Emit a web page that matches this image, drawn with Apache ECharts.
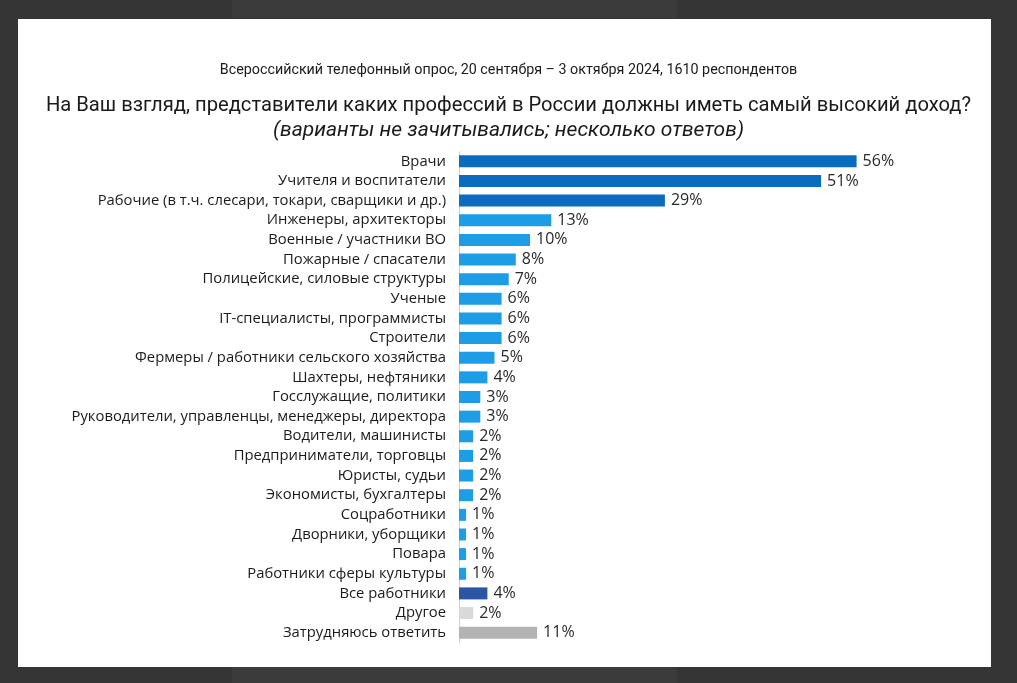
<!DOCTYPE html>
<html><head><meta charset="utf-8">
<script src="https://cdn.jsdelivr.net/npm/echarts@6/dist/echarts.min.js"></script>
<style>html,body{margin:0;padding:0;background:#353535;}#c{width:1017px;height:683px;}</style>
</head><body><div id="c"></div>
<script>
const categories = [
 "Врачи","Учителя и воспитатели","Рабочие (в т.ч. слесари, токари, сварщики и др.)",
 "Инженеры, архитекторы","Военные / участники ВО","Пожарные / спасатели",
 "Полицейские, силовые структуры","Ученые","IT-специалисты, программисты","Строители",
 "Фермеры / работники сельского хозяйства","Шахтеры, нефтяники","Госслужащие, политики",
 "Руководители, управленцы, менеджеры, директора","Водители, машинисты",
 "Предприниматели, торговцы","Юристы, судьи","Экономисты, бухгалтеры","Соцработники",
 "Дворники, уборщики","Повара","Работники сферы культуры","Все работники","Другое",
 "Затрудняюсь ответить"];
const values = [56,51,29,13,10,8,7,6,6,6,5,4,3,3,2,2,2,2,1,1,1,1,4,2,11];
const groups = ["top","top","top","l","l","l","l","l","l","l","l","l","l","l","l","l","l","l","l","l","l","l","all","other","dk"];
const palette = {top:"#0b6cbf", l:"#1c9de6", all:"#2c55a2", other:"#d9d9d9", dk:"#b3b3b3"};
const surveyNote = "Всероссийский телефонный опрос, 20 сентября – 3 октября 2024, 1610 респондентов";
const question = "На Ваш взгляд, представители каких профессий в России должны иметь самый высокий доход?";
const questionNote = "(варианты не зачитывались; несколько ответов)";

const chart = echarts.init(document.getElementById('c'), null, {renderer:'canvas'});
const narrow = '"Roboto",sans-serif';
chart.setOption({
  animation:false,
  backgroundColor:'#353535',
  graphic:[
    {type:'rect', shape:{x:232,y:0,width:445,height:18}, style:{fill:'#3b3b3b'}, z:-1},
    {type:'rect', shape:{x:232,y:667,width:445,height:16}, style:{fill:'#3b3b3b'}, z:-1},
    {type:'rect', shape:{x:18,y:19,width:973,height:648}, style:{fill:'#ffffff'}, z:-1}
  ],
  title:[
    {text:surveyNote, left:'center', top:58, textStyle:{fontFamily:narrow, fontSize:14.3, fontWeight:'normal', color:'#1a1a1a'}},
    {text:question, left:'center', top:91, textStyle:{fontFamily:narrow, fontSize:20.2, fontWeight:'normal', color:'#1a1a1a'}},
    {text:questionNote, left:'center', top:115, textStyle:{fontFamily:narrow, fontSize:21, fontStyle:'italic', fontWeight:'normal', color:'#1a1a1a'}}
  ],
  grid:{left:459, top:151.5, width:426, height:491, containLabel:false},
  xAxis:{type:'value', min:0, max:60, show:false},
  yAxis:{type:'category', data:categories, inverse:true,
    axisLine:{show:true, lineStyle:{color:'#d0d0d0', width:1}},
    axisTick:{show:false},
    axisLabel:{margin:13, fontFamily:'"Open Sans",sans-serif', fontSize:14.8, color:'#1a1a1a'}},
  series:[{type:'bar', barWidth:12,
    data: values.map((v,i)=>({value:v, itemStyle:{color:palette[groups[i]]}})),
    label:{show:true, position:'right', distance:6, formatter:'{c}%', fontFamily:'"Open Sans",sans-serif', fontSize:16, color:'#2a2a2a'}
  }]
});
</script></body></html>
